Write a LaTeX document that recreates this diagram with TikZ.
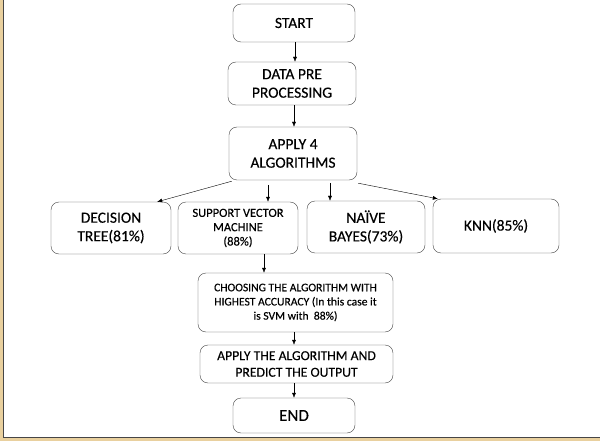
\documentclass[tikz,border=0pt]{standalone}
\usepackage{fontspec}
\setmainfont{Carlito}[FakeBold=0.3]
\usetikzlibrary{arrows.meta}

\definecolor{paper}{RGB}{233,208,158}
\definecolor{edge}{RGB}{70,70,70}

\begin{document}
\begin{tikzpicture}[
		x=1pt, y=-1pt,
		arrow/.style={-{Latex[length=5pt,width=4pt]}, black},
		block/.style={draw=edge, rounded corners=8pt, align=center, inner sep=1pt},
		big/.style={font=\fontsize{15.5}{18.5}\selectfont},
		mid/.style={font=\fontsize{13.7}{16.6}\selectfont},
		small/.style={font=\fontsize{12.5}{14.3}\selectfont},
		tiny/.style={font=\fontsize{11.6}{14.2}\selectfont},
	]
		% page and frame
		\useasboundingbox (0,0) rectangle (600,441);
		\fill[paper] (0,0) rectangle (600,441);
		\fill[white] (3,0) rectangle (600,437);
		\draw[edge, line width=0.8pt] (3,0) -- (3,437) -- (600,437);

		% main column
		\node[block, big, minimum width=122pt, minimum height=38pt] (start) at (294,23) {START};
		\node[block, big, minimum width=128pt, minimum height=43pt] (prep) at (292,83.5) {DATA PRE\\PROCESSING};
		\node[block, big, minimum width=128pt, minimum height=53pt] (apply) at (293,153.5) {APPLY 4\\ALGORITHMS};

		% the four algorithms
		\node[block, big, minimum width=120pt, minimum height=52pt] (dt) at (111,228) {DECISION\\TREE(81\%)};
		\node[block, small, minimum width=120pt, minimum height=52pt] (svm) at (238,228) {SUPPORT VECTOR\\MACHINE\\(88\%)};
		\node[block, big, minimum width=118pt, minimum height=52pt] (nb) at (366,227) {NAÏVE\\BAYES(73\%)};
		\node[block, big, minimum width=126pt, minimum height=54pt] (knn) at (496,226) {KNN(85\%)};

		% choice and result
		\node[block, tiny, minimum width=195pt, minimum height=59pt] (choose) at (295.5,302.5) {CHOOSING THE ALGORITHM WITH\\HIGHEST ACCURACY (In this case it\\is SVM with~~88\%)};
		\node[block, mid, minimum width=193pt, minimum height=38pt] (applyalg) at (296.5,364) {APPLY THE ALGORITHM AND\\PREDICT THE OUTPUT};
		\node[block, font=\fontsize{17}{20}\selectfont, minimum width=122pt, minimum height=35pt] (end) at (294,415.5) {END};

		% loose arrow ends
		\coordinate (svmtop) at (268,185);
		\coordinate (nbtop) at (330,183);

		\draw[arrow] ([xshift=1pt]start.south) coordinate (s0) -- (s0 |- prep.north);
		\draw[arrow] ([xshift=2pt]prep.south) coordinate (s1) -- (s1 |- apply.north);
		\draw[arrow] ([xshift=3pt,yshift=-1pt]apply.south west) -- ([xshift=-14pt]dt.north east);
		\draw[arrow] (svmtop) -- (svmtop |- svm.north);
		\draw[arrow] (nbtop) -- (nbtop |- nb.north);
		\draw[arrow] ([xshift=1pt,yshift=-3pt]apply.south east) -- ([xshift=5pt]knn.north west);
		\draw[arrow] ([xshift=26pt]svm.south) coordinate (s2) -- (s2 |- choose.north);
		\draw[arrow] ([xshift=-1.5pt]choose.south) coordinate (s3) -- (s3 |- applyalg.north);
		\draw[arrow] ([xshift=-2.5pt]applyalg.south) coordinate (s4) -- (s4 |- end.north);
	\end{tikzpicture}
\end{document}
